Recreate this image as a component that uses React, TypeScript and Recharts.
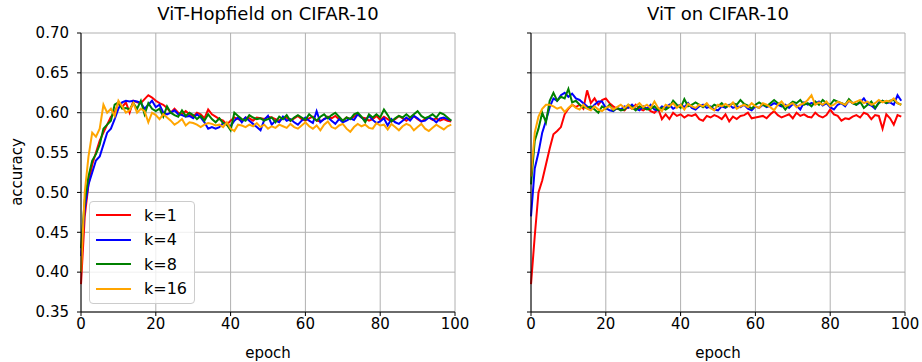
import React from 'react';
import { LineChart, Line, XAxis, YAxis, CartesianGrid, Legend } from 'recharts';

// epochs 0..99, one value per epoch
const EPOCHS = Array.from({ length: 100 }, (_, i) => i);
const X_TICKS = [0, 20, 40, 60, 80, 100];
const Y_TICKS = [0.35, 0.4, 0.45, 0.5, 0.55, 0.6, 0.65, 0.7];

const SERIES = [
  { key: 'k1', name: 'k=1', color: 'red' },
  { key: 'k4', name: 'k=4', color: 'blue' },
  { key: 'k8', name: 'k=8', color: 'green' },
  { key: 'k16', name: 'k=16', color: 'orange' },
];

// ViT-Hopfield on CIFAR-10
const HOP_K1 = [
  0.385, 0.47, 0.51, 0.535, 0.55, 0.565, 0.575, 0.585, 0.595, 0.6,
  0.612, 0.607, 0.613, 0.6, 0.615, 0.613, 0.612, 0.617, 0.622, 0.619,
  0.615, 0.612, 0.61, 0.606, 0.6, 0.605, 0.6, 0.598, 0.602, 0.598,
  0.595, 0.6, 0.598, 0.593, 0.604, 0.598, 0.595, 0.592, 0.59, 0.585,
  0.59, 0.594, 0.592, 0.59, 0.594, 0.593, 0.59, 0.594, 0.593, 0.592,
  0.595, 0.594, 0.592, 0.59, 0.593, 0.594, 0.59, 0.593, 0.596, 0.592,
  0.59, 0.593, 0.595, 0.59, 0.589, 0.592, 0.595, 0.593, 0.596, 0.592,
  0.59, 0.594, 0.592, 0.595, 0.598, 0.594, 0.593, 0.59, 0.592, 0.596,
  0.591, 0.595, 0.592, 0.589, 0.592, 0.596, 0.593, 0.59, 0.594, 0.596,
  0.592, 0.589, 0.592, 0.594, 0.591, 0.593, 0.59, 0.592, 0.59, 0.589,
];
const HOP_K4 = [
  0.42, 0.48, 0.51, 0.525, 0.54, 0.545, 0.56, 0.575, 0.58, 0.592,
  0.605, 0.613, 0.615, 0.614, 0.615, 0.614, 0.612, 0.605, 0.61, 0.615,
  0.607, 0.61, 0.6, 0.598, 0.6, 0.603, 0.598, 0.597, 0.595, 0.596,
  0.593, 0.598, 0.594, 0.588, 0.58, 0.582, 0.58, 0.582, 0.587, 0.586,
  0.583, 0.59, 0.594, 0.588, 0.594, 0.59, 0.586, 0.582, 0.578, 0.591,
  0.596, 0.585, 0.59, 0.588, 0.595, 0.59, 0.592, 0.588, 0.585, 0.59,
  0.594, 0.59, 0.587, 0.602, 0.588, 0.592, 0.594, 0.59, 0.586, 0.592,
  0.588, 0.59, 0.593, 0.591, 0.598, 0.594, 0.59, 0.596, 0.591, 0.587,
  0.589, 0.593, 0.584, 0.592, 0.588, 0.586, 0.59, 0.594, 0.59, 0.596,
  0.593, 0.589, 0.59, 0.594, 0.592, 0.588, 0.593, 0.594, 0.592, 0.59,
];
const HOP_K8 = [
  0.43, 0.49, 0.52, 0.54, 0.548, 0.56, 0.58, 0.585, 0.59, 0.61,
  0.613, 0.605, 0.606, 0.604, 0.612, 0.605, 0.615, 0.598, 0.612, 0.605,
  0.602, 0.605, 0.595, 0.608, 0.6, 0.597, 0.595, 0.603, 0.596, 0.6,
  0.597, 0.592, 0.596, 0.59, 0.598, 0.592, 0.588, 0.593, 0.587, 0.585,
  0.578, 0.6, 0.596, 0.592, 0.59, 0.597, 0.594, 0.592, 0.593, 0.59,
  0.592, 0.594, 0.588, 0.595, 0.592, 0.597, 0.59, 0.594, 0.597, 0.594,
  0.591, 0.598, 0.594, 0.59, 0.595, 0.598, 0.593, 0.597, 0.6, 0.595,
  0.59, 0.594, 0.592, 0.598, 0.6, 0.595, 0.588, 0.598, 0.594, 0.598,
  0.594, 0.604, 0.597, 0.589, 0.593, 0.596, 0.594, 0.598, 0.594, 0.598,
  0.602, 0.596, 0.593, 0.595, 0.598, 0.594, 0.6, 0.598, 0.594, 0.59,
];
const HOP_K16 = [
  0.4, 0.5, 0.545, 0.575, 0.57, 0.58, 0.61, 0.6, 0.605, 0.596,
  0.615, 0.608, 0.6, 0.603, 0.612, 0.6, 0.605, 0.602, 0.588, 0.6,
  0.597, 0.592, 0.598, 0.594, 0.59, 0.585, 0.588, 0.592, 0.584, 0.588,
  0.587, 0.585, 0.582, 0.585, 0.587, 0.586, 0.584, 0.585, 0.582, 0.588,
  0.58, 0.577, 0.585, 0.584, 0.582, 0.585, 0.583, 0.587, 0.582, 0.585,
  0.58, 0.583, 0.581, 0.585, 0.583, 0.581, 0.586, 0.582, 0.58, 0.584,
  0.588, 0.583, 0.58, 0.584, 0.578, 0.585, 0.589, 0.582, 0.58, 0.584,
  0.586, 0.58, 0.576, 0.582, 0.586, 0.583, 0.585, 0.581, 0.58, 0.587,
  0.584, 0.585, 0.579, 0.586, 0.582, 0.578, 0.583, 0.586, 0.584, 0.578,
  0.582, 0.586, 0.58, 0.577, 0.581, 0.585, 0.582, 0.579, 0.583, 0.585,
];

// ViT on CIFAR-10
const VIT_K1 = [
  0.385, 0.445, 0.5, 0.515, 0.535, 0.555, 0.573, 0.577, 0.582, 0.598,
  0.605, 0.61, 0.607, 0.61, 0.605, 0.628, 0.612, 0.618, 0.61, 0.616,
  0.618, 0.612, 0.608, 0.605, 0.604, 0.603, 0.608, 0.605, 0.61, 0.605,
  0.603, 0.606, 0.602, 0.6, 0.605, 0.592, 0.598, 0.592, 0.6, 0.596,
  0.598, 0.594, 0.597, 0.596, 0.598, 0.592, 0.59, 0.596, 0.594, 0.597,
  0.595, 0.592, 0.598, 0.589, 0.595, 0.592, 0.596, 0.597, 0.6, 0.593,
  0.594, 0.595, 0.596, 0.593, 0.598, 0.602, 0.597, 0.594, 0.596, 0.598,
  0.593, 0.6, 0.596, 0.598, 0.595, 0.594, 0.6, 0.596, 0.594, 0.597,
  0.604, 0.598, 0.596, 0.59, 0.593, 0.592, 0.595, 0.597, 0.594, 0.6,
  0.598, 0.592, 0.597, 0.596, 0.58, 0.598, 0.593, 0.585, 0.597, 0.595,
];
const VIT_K4 = [
  0.47, 0.53, 0.55, 0.575, 0.59, 0.607, 0.618, 0.615, 0.622, 0.625,
  0.62, 0.624, 0.618, 0.616, 0.612, 0.608, 0.605, 0.61, 0.614, 0.614,
  0.606, 0.603, 0.602, 0.606, 0.604, 0.608, 0.606, 0.61, 0.605, 0.603,
  0.608, 0.605, 0.61, 0.604, 0.603, 0.608, 0.606, 0.61, 0.605, 0.608,
  0.61, 0.607, 0.612, 0.606, 0.604, 0.608, 0.61, 0.606, 0.608, 0.604,
  0.603, 0.608, 0.606, 0.61, 0.606, 0.608, 0.607, 0.61, 0.605, 0.603,
  0.608, 0.606, 0.61, 0.607, 0.609, 0.612, 0.61, 0.608, 0.61, 0.606,
  0.611, 0.609, 0.604, 0.613, 0.61, 0.612, 0.611, 0.614, 0.609, 0.612,
  0.607, 0.604, 0.61, 0.612, 0.608, 0.615, 0.612, 0.61, 0.613, 0.618,
  0.611, 0.609, 0.605, 0.613, 0.615, 0.612, 0.613, 0.61, 0.622, 0.615,
];
const VIT_K8 = [
  0.51, 0.565, 0.58, 0.6, 0.588, 0.615, 0.625, 0.615, 0.62, 0.618,
  0.63, 0.613, 0.615, 0.61, 0.607, 0.606, 0.608, 0.604, 0.6, 0.608,
  0.605, 0.61, 0.603, 0.606, 0.603, 0.604, 0.61, 0.607, 0.603, 0.608,
  0.606, 0.604, 0.605, 0.608, 0.603, 0.606, 0.604, 0.607, 0.615, 0.61,
  0.606, 0.617, 0.608, 0.61, 0.613, 0.61, 0.607, 0.611, 0.606, 0.61,
  0.608, 0.612, 0.607, 0.609, 0.612, 0.61, 0.616, 0.611, 0.609, 0.605,
  0.61, 0.613, 0.61, 0.608, 0.612, 0.616, 0.612, 0.61, 0.604, 0.61,
  0.614, 0.612, 0.616, 0.61, 0.612, 0.608, 0.614, 0.61, 0.616, 0.612,
  0.61, 0.616, 0.614, 0.612, 0.61, 0.617, 0.612, 0.61, 0.614, 0.606,
  0.61, 0.614, 0.606, 0.612, 0.615, 0.612, 0.615, 0.616, 0.612, 0.61,
];
const VIT_K16 = [
  0.52, 0.575, 0.595, 0.605, 0.61, 0.61, 0.608, 0.605, 0.607, 0.601,
  0.606, 0.61, 0.606, 0.604, 0.61, 0.605, 0.603, 0.608, 0.604, 0.602,
  0.606, 0.608, 0.604, 0.607, 0.61, 0.606, 0.61, 0.605, 0.608, 0.612,
  0.607, 0.61, 0.606, 0.614, 0.606, 0.602, 0.61, 0.608, 0.612, 0.606,
  0.61, 0.604, 0.611, 0.608, 0.606, 0.61, 0.608, 0.612, 0.606, 0.603,
  0.61, 0.608, 0.611, 0.608, 0.613, 0.605, 0.608, 0.61, 0.607, 0.612,
  0.608, 0.606, 0.612, 0.61, 0.607, 0.603, 0.61, 0.614, 0.608, 0.61,
  0.612, 0.607, 0.61, 0.612, 0.616, 0.622, 0.61, 0.613, 0.61, 0.614,
  0.608, 0.61, 0.614, 0.612, 0.61, 0.615, 0.612, 0.614, 0.616, 0.612,
  0.614, 0.61, 0.612, 0.616, 0.613, 0.615, 0.614, 0.618, 0.612, 0.61,
];

const hopData = EPOCHS.map((epoch, i) => ({
  epoch, k1: HOP_K1[i], k4: HOP_K4[i], k8: HOP_K8[i], k16: HOP_K16[i],
}));
const vitData = EPOCHS.map((epoch, i) => ({
  epoch, k1: VIT_K1[i], k4: VIT_K4[i], k8: VIT_K8[i], k16: VIT_K16[i],
}));

const FONT = '"DejaVu Sans", sans-serif';
const tickStyle = { fill: '#000', fontSize: 15, fontFamily: FONT };

// keep plotting order (k=1, k=4, k=8, k=16) instead of the legend's sorted payload
const renderLegend = () => (
  <div
    style={{
      border: '1px solid #cccccc',
      borderRadius: 4,
      background: 'rgba(255,255,255,0.8)',
      padding: '1px 0 2px 0',
      fontFamily: FONT,
      fontSize: 16,
    }}
  >
    {SERIES.map((s) => (
      <div key={s.key} style={{ display: 'flex', alignItems: 'center', height: 24.5 }}>
        <svg width={54} height={10}>
          <line x1={6} x2={41} y1={5} y2={5} stroke={s.color} strokeWidth={2} />
        </svg>
        <span>{s.name}</span>
      </div>
    ))}
  </div>
);

interface PanelProps {
  data: any[];
  title: string;
  left: number;
  yLabels: boolean;
  legend: boolean;
}

const Panel: React.FC<PanelProps> = ({ data, title, left, yLabels, legend }) => (
  <div style={{ position: 'absolute', left, top: 0, width: 470, height: 362 }}>
    <div
      style={{
        position: 'absolute', left: 81, width: 374, top: 4, textAlign: 'center',
        fontSize: 18, lineHeight: '20px', fontFamily: FONT, color: '#000',
      }}
    >
      {title}
    </div>
    <LineChart width={470} height={362} data={data} margin={{ top: 33, right: 15, left: 0, bottom: 0 }}>
      <CartesianGrid stroke="#b0b0b0" strokeWidth={1} />
      <XAxis
        dataKey="epoch"
        type="number"
        domain={[0, 100]}
        ticks={X_TICKS}
        height={50}
        tick={tickStyle}
        tickSize={4}
        tickMargin={2}
        tickLine={{ stroke: '#000' }}
        axisLine={{ stroke: '#000' }}
      />
      <XAxis xAxisId="top" orientation="top" type="number" domain={[0, 100]} height={0} tick={false} tickLine={false} axisLine={{ stroke: '#000' }} />
      <YAxis
        domain={[0.35, 0.7]}
        ticks={Y_TICKS}
        width={81}
        tick={tickStyle}
        tickSize={4}
        tickMargin={8}
        tickFormatter={(v: number) => (yLabels ? v.toFixed(2) : '')}
        tickLine={{ stroke: '#000' }}
        axisLine={{ stroke: '#000' }}
      />
      <YAxis yAxisId="right" orientation="right" domain={[0.35, 0.7]} width={0} tick={false} tickLine={false} axisLine={{ stroke: '#000' }} />
      {SERIES.map((s) => (
        <Line
          key={s.key}
          type="linear"
          dataKey={s.key}
          name={s.name}
          stroke={s.color}
          strokeWidth={2}
          dot={false}
          isAnimationActive={false}
        />
      ))}
      {legend && (
        <Legend
          layout="vertical"
          align="center"
          verticalAlign="middle"
          content={renderLegend}
          wrapperStyle={{ left: 89, top: 201, width: 106 }}
        />
      )}
    </LineChart>
    <div
      style={{
        position: 'absolute', left: 81, width: 374, top: 344, textAlign: 'center',
        fontSize: 15, lineHeight: '18px', fontFamily: FONT, color: '#000',
      }}
    >
      epoch
    </div>
  </div>
);

export default function App() {
  return (
    <div style={{ position: 'absolute', left: 0, top: 0, width: 922, height: 362, background: '#fff' }}>
      <Panel data={hopData} title="ViT-Hopfield on CIFAR-10" left={0} yLabels legend />
      <Panel data={vitData} title="ViT on CIFAR-10" left={450} yLabels={false} legend={false} />
      <div
        style={{
          position: 'absolute', left: 17, top: 172, transform: 'translate(-50%, -50%) rotate(-90deg)',
          fontSize: 15, lineHeight: '18px', fontFamily: FONT, color: '#000', whiteSpace: 'nowrap',
        }}
      >
        accuracy
      </div>
    </div>
  );
}
